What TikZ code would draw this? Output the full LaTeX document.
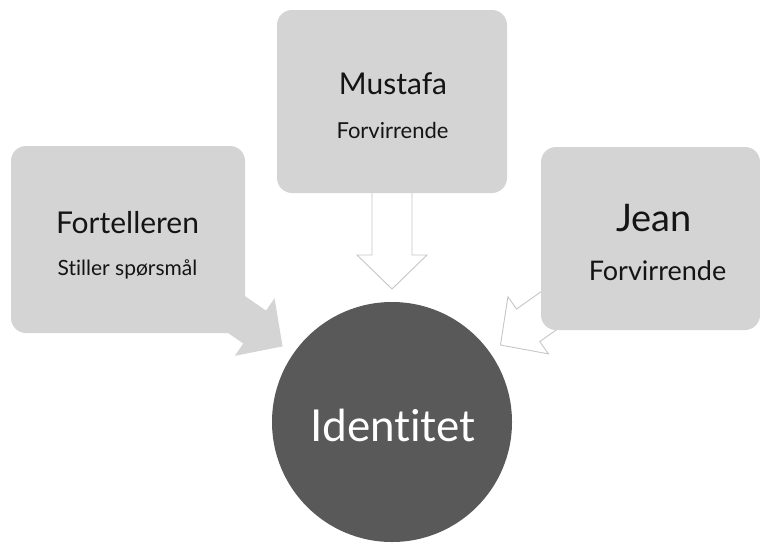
\documentclass[tikz,border=0pt]{standalone}
\usepackage{fontspec}
\setmainfont{Lato}[Ligatures=NoCommon]
\usepackage{xcolor}
\usepackage{tikz}
\usetikzlibrary{calc,backgrounds}

\definecolor{boxgray}{RGB}{212,212,212}
\definecolor{idgray}{RGB}{89,89,89}
\definecolor{arrgray}{RGB}{198,198,198}
\definecolor{txtgray}{RGB}{20,20,20}

\tikzset{
    person/.style={rectangle, rounded corners=15pt, fill=boxgray, inner sep=0pt},
    label/.style={anchor=base, inner sep=0pt, text=txtgray},
    fullarr/.style={fill=boxgray, draw=none},
    openarr/.style={fill=white, draw=arrgray, line width=0.9pt, line join=miter}
}

% block arrow from node #2 towards node #3
\newcommand{\blockarr}[3][]{%
    \coordinate (tip) at ($(#3)!133pt!(#2)$);
    \coordinate (base) at ($(tip)!34pt!(#2)$);
    \path[#1] ($(#2)!20pt!90:(tip)$) -- ($(base)!20pt!90:(tip)$)
        -- ($(base)!35pt!90:(tip)$) -- (tip) -- ($(base)!35pt!-90:(tip)$)
        -- ($(base)!20pt!-90:(tip)$) -- ($(#2)!20pt!-90:(tip)$) -- cycle;
}

\begin{document}
\begin{tikzpicture}[x=1pt, y=-1pt]
        \useasboundingbox (0,0) rectangle (760,542);

        \node[person, minimum width=234pt, minimum height=187pt] (fort) at (128,239.5) {};
        \node[person, minimum width=230pt, minimum height=183pt] (mus) at (392,101.5) {};
        \node[person, minimum width=219pt, minimum height=183pt] (jean) at (650.5,238.5) {};
        \node[circle, fill=idgray, minimum size=240pt, inner sep=0pt] (id) at (392,422) {};

        \node[label, font=\fontsize{30}{30}\selectfont] (fortA) at (127.5,233) {Fortelleren};
        \node[label, font=\fontsize{21}{21}\selectfont] (fortB) at (127.5,275) {Stiller spørsmål};
        \node[label, font=\fontsize{30}{30}\selectfont] (musA) at (393,94) {Mustafa};
        \node[label, font=\fontsize{22}{22}\selectfont] (musB) at (392.5,138) {Forvirrende};
        \node[label, font=\fontsize{38}{38}\selectfont] (jeanA) at (654,231.5) {Jean};
        \node[label, font=\fontsize{27}{27}\selectfont] (jeanB) at (657.5,280) {Forvirrende};
        \node[label, text=white, font=\fontsize{44}{44}\selectfont] (idA) at (393,441.5) {Identitet};

        \begin{scope}[on background layer]
        \blockarr[fullarr]{fort}{id} % left
        \blockarr[openarr]{mus}{id} % middle
        \blockarr[openarr]{jean}{id} % right
        \end{scope}
    \end{tikzpicture}
\end{document}
